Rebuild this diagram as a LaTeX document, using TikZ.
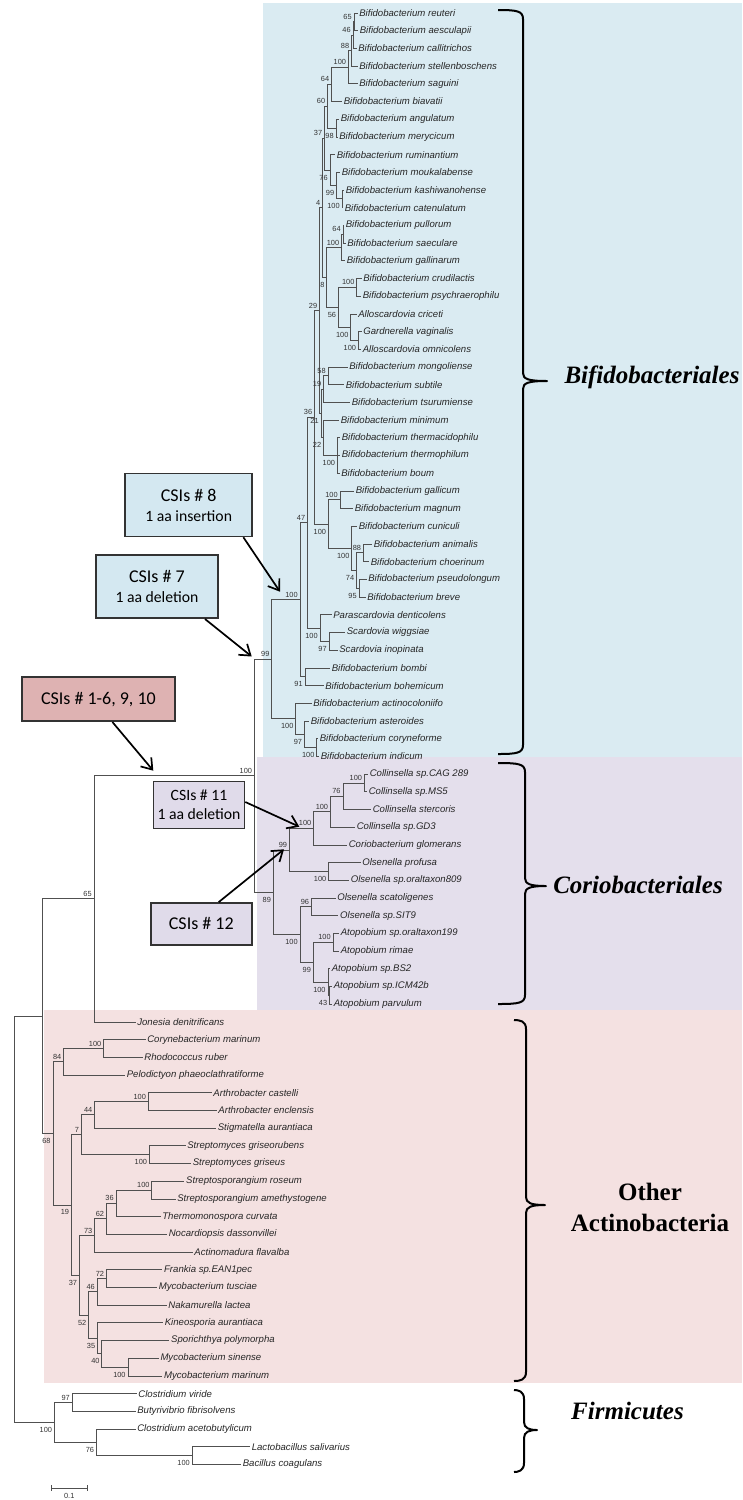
\documentclass[tikz,border=0pt]{standalone}
\usepackage{fontspec}
\setmainfont{Liberation Serif}
\setsansfont{Liberation Sans}
\newfontfamily\csifont{Carlito}
\usetikzlibrary{arrows.meta}
\definecolor{bifbg}{RGB}{218,235,242}
\definecolor{corbg}{RGB}{228,223,236}
\definecolor{othbg}{RGB}{244,225,225}
\definecolor{bifbox}{RGB}{212,232,241}
\definecolor{redbox}{RGB}{222,178,178}
\definecolor{corbox}{RGB}{224,219,234}
\definecolor{treeline}{RGB}{80,80,80}
\tikzset{
leaf/.style={anchor=west, inner xsep=1.6pt, inner ysep=0pt, text=black!85, font=\sffamily\itshape\fontsize{9.6}{10}\selectfont}, % taxon names
boot/.style={inner sep=0.6pt, text=black!80, font=\sffamily\fontsize{7.4}{8}\selectfont}, % bootstrap values
ab/.style={boot, anchor=south east, xshift=-1.5pt, yshift=1.5pt}, % value above the node
be/.style={boot, anchor=north east, xshift=-1.5pt, yshift=-4pt}, % value below the node
branch/.style={draw=treeline, line width=0.75pt},
csibox/.style={draw=black!80, line width=1.6pt, align=center, inner sep=0pt, font=\csifont\fontsize{18}{20}\selectfont},
csiarrow/.style={line width=1.7pt, -{Straight Barb[length=10pt,width=14pt]}},
order/.style={font=\bfseries\itshape\fontsize{25}{28}\selectfont},
brace/.style={line width=2pt, line join=round},
}
\newcommand{\subtxt}[1]{{\fontsize{15.7}{20}\selectfont #1}}
% hook x, vertical x, top y, tip y, bottom y, tip x
\newcommand{\clbrace}[6]{%
\draw[brace] (#1,#3) .. controls ({#2-6},#3) and (#2,{#3+1}) .. (#2,{#3+9})
  -- (#2,{#4-8}) .. controls (#2,{#4-2}) and ({#2+5},#4) .. (#6,#4)
  .. controls ({#2+5},#4) and (#2,{#4+2}) .. (#2,{#4+8})
  -- (#2,{#5-9}) .. controls (#2,{#5-1}) and ({#2-6},#5) .. (#1,#5);}

\begin{document}
\begin{tikzpicture}[x=1pt,y=-1pt]
\useasboundingbox (0,0) rectangle (742,1500);

% coloured clades
\fill[bifbg] (263,3) rectangle (742,757);
\fill[corbg] (257,757) rectangle (742,1010);
\fill[othbg] (43.6,1010) rectangle (742,1383);

% taxa
\foreach \i/\t/\s in {
1/357.5/Bifidobacterium reuteri, 2/358/Bifidobacterium aesculapii,
3/356.5/Bifidobacterium callitrichos, 4/357.5/Bifidobacterium stellenboschens,
5/357.5/Bifidobacterium saguini, 6/342/Bifidobacterium biavatii,
7/339/Bifidobacterium angulatum, 8/337.5/Bifidobacterium merycicum,
9/335/Bifidobacterium ruminantium, 10/340/Bifidobacterium moukalabense,
11/344/Bifidobacterium kashiwanohense, 12/343/Bifidobacterium catenulatum,
13/344/Bifidobacterium pullorum, 14/345.5/Bifidobacterium saeculare,
15/345/Bifidobacterium gallinarum, 16/361.5/Bifidobacterium crudilactis,
17/361/Bifidobacterium psychraerophilu, 18/356.5/Alloscardovia criceti,
19/361.5/Gardnerella vaginalis, 20/361/Alloscardovia omnicolens,
21/347.5/Bifidobacterium mongoliense, 22/344/Bifidobacterium subtile,
23/350/Bifidobacterium tsurumiense, 24/339/Bifidobacterium minimum,
25/340/Bifidobacterium thermacidophilu, 26/340/Bifidobacterium thermophilum,
27/339.5/Bifidobacterium boum, 28/354/Bifidobacterium gallicum,
29/353/Bifidobacterium magnum, 30/357/Bifidobacterium cuniculi,
31/372/Bifidobacterium animalis, 32/369/Bifidobacterium choerinum,
33/366.5/Bifidobacterium pseudolongum, 34/365.5/Bifidobacterium breve,
35/331.5/Parascardovia denticolens, 36/345/Scardovia wiggsiae,
37/337.5/Scardovia inopinata, 38/330/Bifidobacterium bombi,
39/323.5/Bifidobacterium bohemicum, 40/311.5/Bifidobacterium actinocoloniifo,
41/309/Bifidobacterium asteroides, 42/318/Bifidobacterium coryneforme,
43/319/Bifidobacterium indicum,
44/368/Collinsella sp.CAG 289, 45/367/Collinsella sp.MS5,
46/371/Collinsella stercoris, 47/355/Collinsella sp.GD3,
48/347/Coriobacterium glomerans, 49/360.5/Olsenella profusa,
50/349/Olsenella sp.oraltaxon809, 51/335.5/Olsenella scatoligenes,
52/338.4/Olsenella sp.SIT9, 53/339/Atopobium sp.oraltaxon199,
54/339/Atopobium rimae, 55/330/Atopobium sp.BS2,
56/332/Atopobium sp.ICM42b, 57/332/Atopobium parvulum,
58/135.5/Jonesia denitrificans, 59/145.5/Corynebacterium marinum,
60/142.6/Rhodococcus ruber, 61/125/Pelodictyon phaeoclathratiforme,
62/211.6/Arthrobacter castelli, 63/216.6/Arthrobacter enclensis,
64/216/Stigmatella aurantiaca, 65/185.5/Streptomyces griseorubens,
66/191/Streptomyces griseus, 67/184.4/Streptosporangium roseum,
68/175.5/Streptosporangium amethystogene, 69/160.5/Thermomonospora curvata,
70/167/Nocardiopsis dassonvillei, 71/192.6/Actinomadura flavalba,
72/162.3/Frankia sp.EAN1pec, 73/157/Mycobacterium tusciae,
74/166.6/Nakamurella lactea, 75/163/Kineosporia aurantiaca,
76/169.4/Sporichthya polymorpha, 77/158.7/Mycobacterium sinense,
78/162.3/Mycobacterium marinum,
79/136.6/Clostridium viride, 80/135.5/Butyrivibrio fibrisolvens,
81/135.5/Clostridium acetobutylicum, 82/250/Lactobacillus salivarius,
83/241/Bacillus coagulans}
  \node[leaf] (l\i) at (\t,{13+17.7*(\i-1)}) {\s};

% inner nodes
\foreach \n/\x/\y in {
n65/354/21.85, n46/353/35.1, n88/351.5/50.6, n100B/348.3/67.2, n64b/331.5/84.35,
n98/336/128.05, n60/327.5/106.2, n100c/342/198.85, n99/336.5/185.6, n76/330/170.1,
n37/324.5/138.15, n64/343/234.25, n100a/341.5/247.5, n100b/356.7/287.35,
nGO/358.3/340.45, nCG/350.7/327.2, n56/338.3/307.3, n8/326.7/277.4, n4/322.5/207.8,
n58/328/375.85, n19/323.5/389.1, nTB/337.3/455.5, n22/323.5/437.8, n21/321/413.45,
n29/319.5/310.6, nGM/340/499.75, nAC/363.3/552.85, nPB/359/588.25, n74/356.5/570.55,
nCU/351.7/548.4, nGC/328.3/524.1, n36/314.5/417.35, nS/329/641.35, nPS/320/628.1,
n47/307.5/522.7, n91/305/676.75, nX/300/599.7, nW/316.7/747.55, nZ/304.3/734.3,
nY/295.7/718.8, nBif/271.7/659.25,
nCAG/364.3/782.95, n76c/342.9/796.2, n100d/330.4/811.7, n100e/313.6/828.3,
n100f/328.6/871.45, n99c/289.3/849.9, n96/311.4/906.85, nAR/333/942.25,
n43/329.5/995.35, n100g/327.9/982.1, n99d/313.2/962.2, n100h/300/934.5,
n89/273.2/892.2, nBC/254.3/775.7,
n65r/94/898.8, nCR/103.6/1048.45, n84/63.6/1061.7, nAA/148.2/1101.55, n44/94.6/1114.8,
nSS/149.3/1154.65, n7/81.4/1134.7, nSR/151.8/1190.05, n36o/116/1203.3, n62/106.4/1218.8,
n73/94.6/1235.4, n72/106.4/1278.55, n46o/97.1/1291.8, nMM/127.9/1367.05, n40/101.8/1353.8,
n35/97.5/1338.3, n52/88.6/1315.05, n37o/79.3/1275.2, n19o/71.4/1204.95, n68/52.9/1133.3,
nAct/42/1016.05, n97/72.1/1402.45, nLB/192.1/1455.55, n76f/96.4/1442.3,
n100r/54.3/1422.4, root/14.3/1219.2}
  \coordinate (\n) at (\x,\y);

% branches
\foreach \p/\cs in {
n65/{l1.west,l2.west}, n46/{n65,l3.west}, n88/{n46,l4.west}, n100B/{n88,l5.west},
n64b/{n100B,l6.west}, n98/{l7.west,l8.west}, n60/{n64b,n98}, n100c/{l11.west,l12.west},
n99/{l10.west,n100c}, n76/{l9.west,n99}, n37/{n60,n76}, n64/{l13.west,l14.west},
n100a/{n64,l15.west}, n100b/{l16.west,l17.west}, nGO/{l19.west,l20.west},
nCG/{l18.west,nGO}, n56/{n100b,nCG}, n8/{n100a,n56}, n4/{n37,n8},
n58/{l21.west,l22.west}, n19/{n58,l23.west}, nTB/{l25.west,l26.west,l27.west},
n22/{l24.west,nTB}, n21/{n19,n22}, n29/{n4,n21}, nGM/{l28.west,l29.west},
nAC/{l31.west,l32.west}, nPB/{l33.west,l34.west}, n74/{nAC,nPB}, nCU/{l30.west,n74},
nGC/{nGM,nCU}, n36/{n29,nGC}, nS/{l36.west,l37.west}, nPS/{l35.west,nS},
n47/{n36,nPS}, n91/{l38.west,l39.west}, nX/{n47,n91}, nW/{l42.west,l43.west},
nZ/{l41.west,nW}, nY/{l40.west,nZ}, nBif/{nX,nY},
nCAG/{l44.west,l45.west}, n76c/{nCAG,l46.west}, n100d/{n76c,l47.west},
n100e/{n100d,l48.west}, n100f/{l49.west,l50.west}, n99c/{n100e,n100f},
n96/{l51.west,l52.west}, nAR/{l53.west,l54.west}, n43/{l56.west,l57.west},
n100g/{l55.west,n43}, n99d/{nAR,n100g}, n100h/{n96,n99d}, n89/{n99c,n100h},
nBC/{nBif,n89}, n65r/{nBC,l58.west},
nCR/{l59.west,l60.west}, n84/{nCR,l61.west}, nAA/{l62.west,l63.west},
n44/{nAA,l64.west}, nSS/{l65.west,l66.west}, n7/{n44,nSS}, nSR/{l67.west,l68.west},
n36o/{nSR,l69.west}, n62/{n36o,l70.west}, n73/{n62,l71.west}, n72/{l72.west,l73.west},
n46o/{n72,l74.west}, nMM/{l77.west,l78.west}, n40/{l76.west,nMM}, n35/{l75.west,n40},
n52/{n46o,n35}, n37o/{n73,n52}, n19o/{n7,n37o}, n68/{n84,n19o}, nAct/{n65r,n68},
n97/{l79.west,l80.west}, nLB/{l82.west,l83.west}, n76f/{l81.west,nLB},
n100r/{n97,n76f}, root/{nAct,n100r}}
  {\foreach \c in \cs {\draw[branch] (\p) |- (\c);}}

% bootstrap values
\foreach \n/\v in {n65/65, n46/46, n88/88, n100B/100, n64b/64, n60/60, n37/37, n64/64,
n100a/100, n100b/100, n4/4, n58/58, n19/19, n29/29, nGM/100, nAC/88, n36/36, n47/47,
nX/100, nBif/99, nCAG/100, n76c/76, n100d/100, n100e/100, n99c/99, n96/96, nAR/100,
nBC/100, n65r/65, nCR/100, n84/84, nAA/100, n44/44, n7/7, nSR/100, n36o/36, n62/62,
n73/73, n72/72, n46o/46, n97/97}
  \node[ab] (b\n) at (\n) {\v};
\foreach \n/\v in {n98/98, n100c/100, n99/99, n76/76, nGO/100, nCG/100, n56/56, n8/8,
nTB/100, n22/22, n21/21, nPB/95, n74/74, nCU/100, nGC/100, nS/97, nPS/100, n91/91,
nW/100, nZ/97, nY/100, n100f/100, n43/43, n100g/100, n99d/99, n100h/100, n89/89,
nSS/100, nMM/100, n40/40, n35/35, n52/52, n37o/37, n19o/19, n68/68, nLB/100, n76f/76,
n100r/100}
  \node[be] (b\n) at (\n) {\v};

% scale bar
\coordinate (sb0) at (51,1488);
\coordinate (sb1) at (87.5,1488);
\draw[branch] ([yshift=3pt]sb0) -- ([yshift=-3pt]sb0) (sb0) -- (sb1) ([yshift=3pt]sb1) -- ([yshift=-3pt]sb1);
\node[boot, anchor=north] (sbl) at (69.25,1492.3) {0.1};

% CSI boxes
\node[csibox, fill=bifbox, minimum width=127pt, minimum height=63pt] (csi8) at (188.7,505) {CSIs \# 8\\\subtxt{1 aa insertion}};
\node[csibox, fill=bifbox, minimum width=122pt, minimum height=63pt] (csi7) at (156.9,586.7) {CSIs \# 7\\\subtxt{1 aa deletion}};
\node[csibox, fill=redbox, minimum width=153pt, minimum height=44pt] (csi1) at (98.4,699.2) {CSIs \# 1-6, 9, 10};
\node[csibox, fill=corbox, minimum width=91pt, minimum height=47pt, font=\csifont\fontsize{15.7}{19}\selectfont] (csi11) at (199,805) {CSIs \# 11\\1 aa deletion};
\node[csibox, fill=corbox, minimum width=101pt, minimum height=42pt] (csi12) at (201.3,923.9) {CSIs \# 12};

\coordinate (a8) at (280,591.7);
\coordinate (a7) at (251.7,656.5);
\coordinate (a1) at (153.3,770.7);
\coordinate (a11) at (299.3,826.7);
\coordinate (a12) at (284,849.3);
\draw[csiarrow] ([xshift=-9.6pt]csi8.south east) -- (a8);
\draw[csiarrow] ([xshift=-13.7pt]csi7.south east) -- (a7);
\draw[csiarrow] ([xshift=14pt]csi1.south) -- (a1);
\draw[csiarrow] ([yshift=3pt]csi11.east) -- (a11);
\draw[csiarrow] ([xshift=17.4pt]csi12.north) -- (a12);

% brackets and orders
\clbrace{498}{523}{10}{381}{754}{547}
\clbrace{498}{525}{763}{886}{1004}{546}
\clbrace{514}{526}{1020}{1205}{1381}{545}
\clbrace{514}{524}{1390}{1430}{1472}{537}
\node[order] (lbif) at (652,377) {Bifidobacteriales};
\node[order] (lcor) at (638,885) {Coriobacteriales};
\node[order, font=\bfseries\fontsize{25}{31}\selectfont, align=center] (loth) at (650,1207) {Other\\Actinobacteria};
\node[order] (lfir) at (627.5,1411) {Firmicutes};
\end{tikzpicture}
\end{document}
